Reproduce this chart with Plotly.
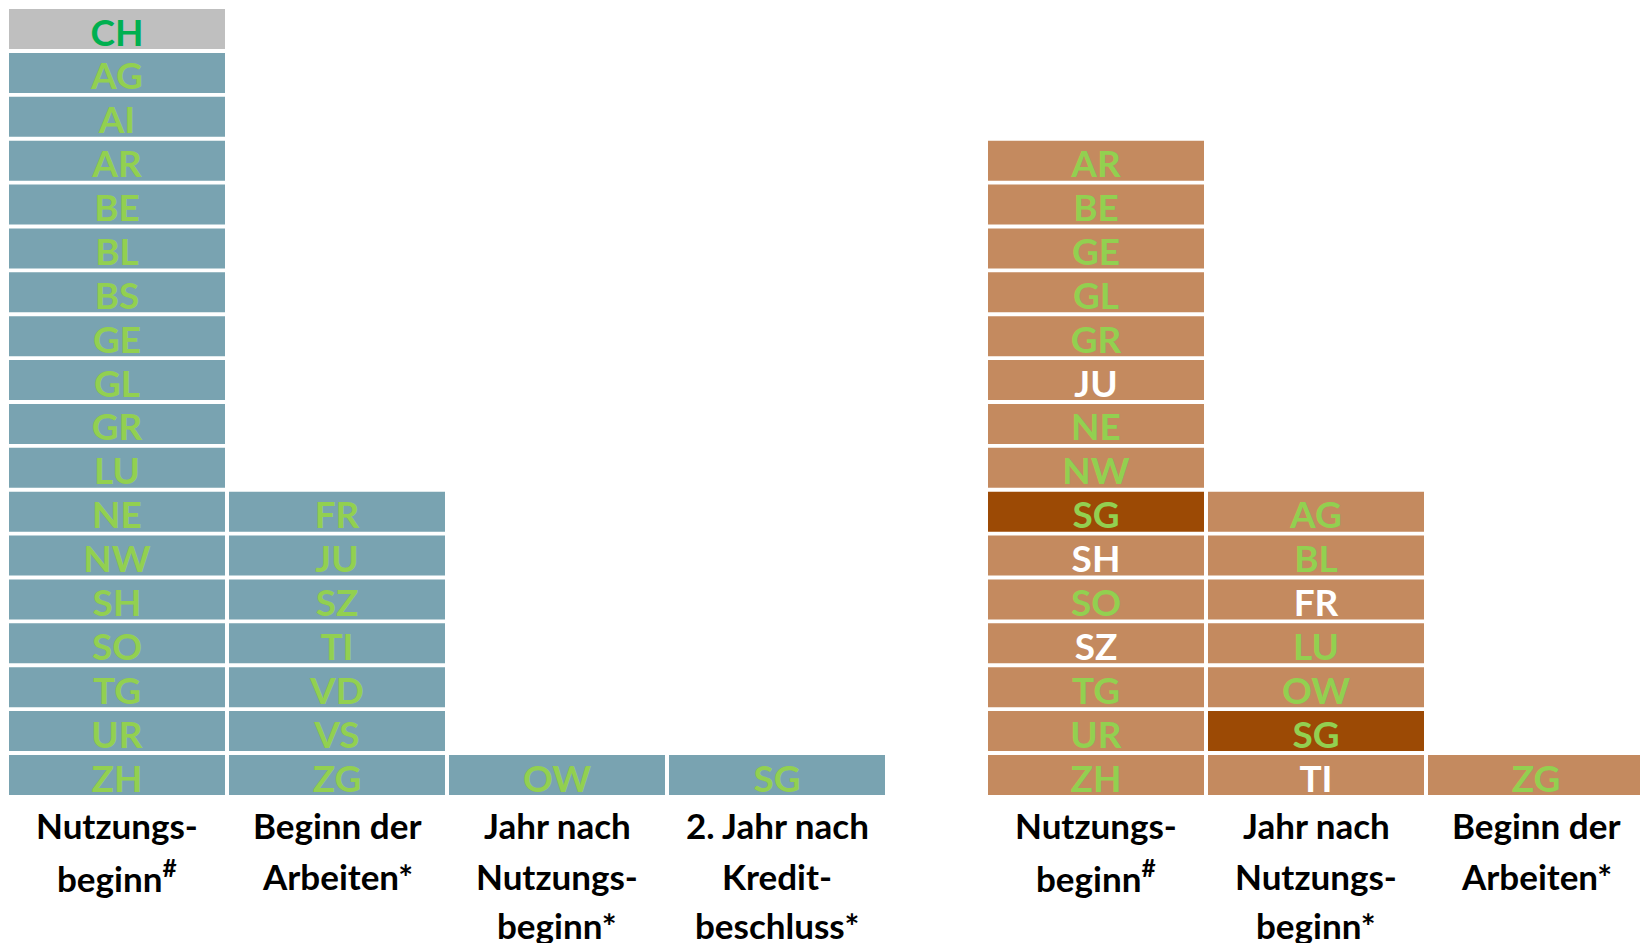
import plotly.graph_objects as go

# ---- data ----
col_labels = [
    ["Nutzungs-", "beginn<sup>#</sup>"],
    ["Beginn der", "Arbeiten*"],
    ["Jahr nach", "Nutzungs-", "beginn*"],
    ["2. Jahr nach", "Kredit-", "beschluss*"],
    ["Nutzungs-", "beginn<sup>#</sup>"],
    ["Jahr nach", "Nutzungs-", "beginn*"],
    ["Beginn der", "Arbeiten*"],
]
col_x = [0, 1, 2, 3, 4.45, 5.45, 6.45]
group = ["left", "left", "left", "left", "right", "right", "right"]

# cantons listed top-down per column
col_items = [
    ["CH", "AG", "AI", "AR", "BE", "BL", "BS", "GE", "GL", "GR", "LU", "NE", "NW", "SH", "SO", "TG", "UR", "ZH"],
    ["FR", "JU", "SZ", "TI", "VD", "VS", "ZG"],
    ["OW"],
    ["SG"],
    ["AR", "BE", "GE", "GL", "GR", "JU", "NE", "NW", "SG", "SH", "SO", "SZ", "TG", "UR", "ZH"],
    ["AG", "BL", "FR", "LU", "OW", "SG", "TI"],
    ["ZG"],
]
# special highlighting
highlight_dark = {(4, "SG"), (5, "SG")}
white_text = {(4, "JU"), (4, "SH"), (4, "SZ"), (5, "FR"), (5, "TI")}
total_cells = {(0, "CH")}

# ---- styles ----
BLUE = "#79A3B1"
BROWN = "#C48A5F"
DARK = "#9C4A05"
GRAY = "#BFBFBF"
GREEN = "#92D050"
DGREEN = "#00B050"
WHITE = "#FFFFFF"

FIG_W = 1640
FIG_H = 943
PITCH = 43.88
BAR_H = 40 / PITCH
BAR_W = 216 / 220
X0 = 117   # pixel centre of first column
Y0 = 795   # pixel bottom of the base row

xs, bases, colors, tx, ty, tt, tc = [], [], [], [], [], [], []
for ci, items in enumerate(col_items):
    n = len(items)
    for k, name in enumerate(items):
        r = n - 1 - k
        key = (ci, name)
        if key in total_cells:
            c = GRAY
        elif key in highlight_dark:
            c = DARK
        else:
            c = BLUE if group[ci] == "left" else BROWN
        xs.append(col_x[ci])
        bases.append(r)
        colors.append(c)
        tx.append(col_x[ci])
        ty.append(r + 0.29)
        tt.append(name)
        if key in total_cells:
            tc.append(DGREEN)
        elif key in white_text:
            tc.append(WHITE)
        else:
            tc.append(GREEN)

fig = go.Figure()
fig.add_trace(go.Bar(
    x=xs, y=[BAR_H] * len(xs), base=bases, width=BAR_W,
    marker=dict(color=colors, line=dict(width=0)),
    hoverinfo="skip", showlegend=False,
))
fig.add_trace(go.Scatter(
    x=tx, y=ty, text=tt, mode="text",
    textposition="middle center",
    textfont=dict(family="Lato", size=37, color=tc, weight="bold"),
    hoverinfo="skip", showlegend=False,
))

line_shifts = [-30, -81, -130]
for ci, lines in enumerate(col_labels):
    for li, line in enumerate(lines):
        fig.add_annotation(
            x=col_x[ci], y=0, xref="x", yref="y",
            text=line, showarrow=False,
            yshift=line_shifts[li], yanchor="middle", xanchor="center",
            font=dict(family="Lato", size=35, color="#000000", weight="bold"),
        )

fig.update_layout(
    width=FIG_W, height=FIG_H,
    margin=dict(l=0, r=0, t=0, b=0),
    paper_bgcolor="white", plot_bgcolor="white",
    barmode="overlay",
    xaxis=dict(range=[-X0 / 220, (FIG_W - X0) / 220], visible=False, fixedrange=True),
    yaxis=dict(range=[(Y0 - FIG_H) / PITCH, Y0 / PITCH], visible=False, fixedrange=True),
)

fig.write_html(
    "out.html",
    config={"displayModeBar": False},
    post_script="document.body.style.margin='0';document.body.style.overflow='hidden';",
)
